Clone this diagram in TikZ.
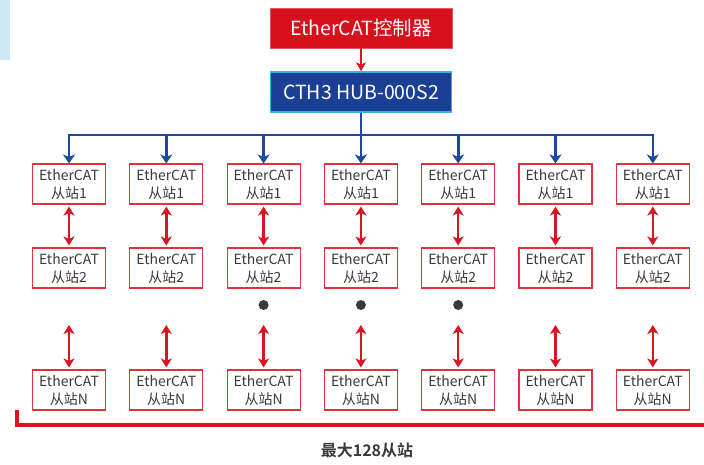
\documentclass[tikz,border=0pt]{standalone}
\usepackage{fontspec}
\setmainfont{Noto Sans CJK SC}[BoldFont={Noto Sans CJK SC Bold}]
\usepackage{xcolor}
\usetikzlibrary{arrows.meta,positioning}
\definecolor{ctrlred}{HTML}{D7101C}
\definecolor{linkred}{HTML}{DA1522}
\definecolor{slavered}{HTML}{E3313B}
\definecolor{hubblue}{HTML}{1B3F94}
\definecolor{hubcyan}{HTML}{35B5E5}
\definecolor{busblue}{HTML}{1E4A9E}
\definecolor{inkgray}{HTML}{3A3A3A}
\definecolor{sidebg}{HTML}{CDE9F8}
\tikzset{
  ctrlbox/.style={draw=ctrlred!70,fill=ctrlred,line width=0.6pt,text=white,
                  minimum width=182pt,minimum height=40pt,inner sep=0pt,
                  font=\fontsize{19.5}{22}\selectfont},
  hubbox/.style={draw=hubcyan,fill=hubblue,line width=1.6pt,text=white,
                 minimum width=181pt,minimum height=40pt,inner sep=0pt,
                 font=\fontsize{19.5}{22}\selectfont},
  slavebox/.style={draw=slavered,fill=white,line width=1.1pt,text=inkgray,
                   align=center,minimum width=73pt,minimum height=40pt,
                   inner sep=0pt,font=\fontsize{14}{18}\selectfont},
  dotmark/.style={circle,fill=inkgray,minimum size=10pt,inner sep=0pt},
  redarr/.style={-{Stealth[length=9pt,width=10pt,inset=2.5pt]},line width=2.2pt,
                 draw=linkred},
  duplexarr/.style={{Stealth[length=9pt,width=11pt,inset=2.5pt]}-{Stealth[length=9pt,width=11pt,inset=2.5pt]},
                    line width=2.4pt,draw=linkred,shorten <=2pt,shorten >=2pt},
  bluearr/.style={-{Stealth[length=9pt,width=12pt,inset=2.5pt]},line width=2.6pt,
                  draw=busblue},
  bracketline/.style={draw=linkred,line width=4pt}
}
\begin{document}
\begin{tikzpicture}[x=1pt,y=-1pt]
  \path[use as bounding box] (0,0) rectangle (704,464);
  \fill[sidebg] (0,0) rectangle (10,60);
  \node[ctrlbox] (ctrl) at (361,28) {EtherCAT控制器};
  \node[hubbox] (hub) at (361,92) {CTH3 HUB-000S2};
  \draw[redarr] (ctrl) -- (hub);
  \coordinate (bus) at (361,135);
  \foreach \i in {1,...,7}{
    \pgfmathsetmacro{\cx}{69+97.3*(\i-1)}
    \node[slavebox] (a\i) at (\cx,184) {EtherCAT\\从站1};
    \node[slavebox] (b\i) at (\cx,268) {EtherCAT\\从站2};
    \node[slavebox] (n\i) at (\cx,390) {EtherCAT\\从站N};
    \coordinate (m\i) at (\cx,323);
    \draw[bluearr] (hub.south) |- (a\i.north |- bus) -- (a\i.north);
    \draw[duplexarr] (a\i) -- (b\i);
    \draw[duplexarr] (m\i) -- (n\i);
  }
  \foreach \i in {3,4,5}{
    \node[dotmark] (d\i) at (b\i.south |- 0,305) {};
  }
  \coordinate (brL) at (17,410);
  \coordinate (brR) at (704,425);
  \draw[bracketline] (brL) |- (brR);
  \node[font=\fontsize{16}{18}\selectfont\bfseries,text=inkgray] (maxlabel)
    at (367,450) {最大128从站};
\end{tikzpicture}
\end{document}
